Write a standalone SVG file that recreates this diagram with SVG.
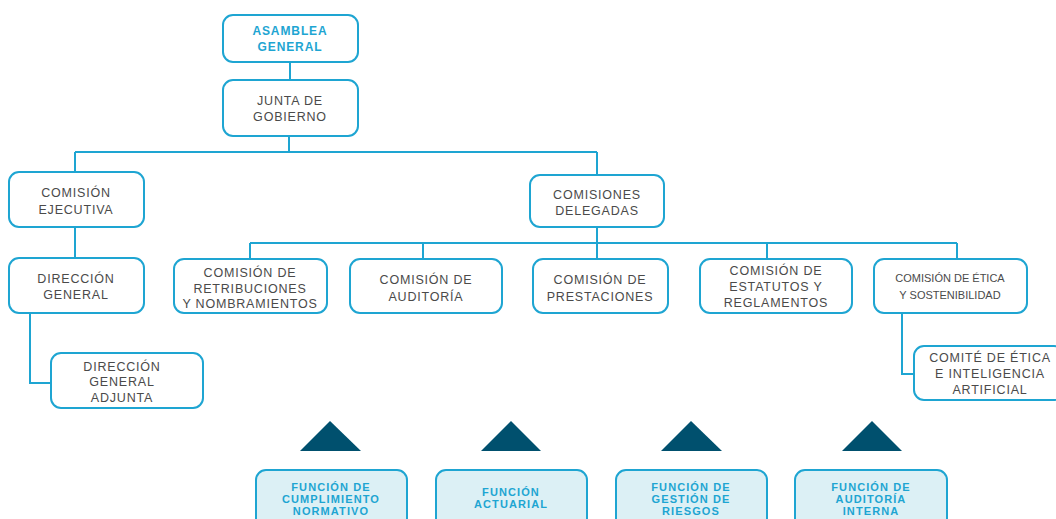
<svg xmlns="http://www.w3.org/2000/svg" width="1056" height="519" viewBox="0 0 1056 519">
<style>
.b{fill:#fff;stroke:#1ea5d2;stroke-width:2}
.f{fill:#dcf0f5;stroke:#1ea5d2;stroke-width:2}
.t{font-family:"Liberation Sans",Arial,sans-serif;font-size:12.5px;fill:#4a4a4a;text-anchor:middle;letter-spacing:0.8px}
.s{font-size:11px;letter-spacing:0}
.h{font-family:"Liberation Sans",Arial,sans-serif;font-size:12px;font-weight:bold;fill:#1ea5d2;text-anchor:middle;letter-spacing:0.9px}
.hs{font-size:11px;letter-spacing:1.1px}
.c{fill:none;stroke:#1ea5d2;stroke-width:2}
.tri{fill:#00506e}
</style>
<rect width="1056" height="519" fill="#fff"/>
<g id="connectors">
<path class="c" d="M290 62V80M289 136V152M75 152H597M75 152V172M597 152V175M75 227V258M30 313V383H51M597 227V243M250 243H957M250 243V259M423 243V259M597 243V259M767 243V259M957 243V259M902 313V374H914"/>
</g>
<g id="asamblea"><rect class="b" x="223" y="15" width="135" height="47" rx="10"/><text class="h" x="290" y="34.5">ASAMBLEA</text><text class="h" x="290" y="50.5">GENERAL</text></g>
<g id="junta"><rect class="b" x="223" y="80" width="135" height="56" rx="10"/><text class="t" x="290" y="104.5">JUNTA DE</text><text class="t" x="290" y="120.5">GOBIERNO</text></g>
<g id="ejecutiva"><rect class="b" x="9" y="172" width="135" height="55" rx="10"/><text class="t" x="76" y="196.5">COMISIÓN</text><text class="t" x="76" y="213.5">EJECUTIVA</text></g>
<g id="direccion"><rect class="b" x="9" y="258" width="135" height="55" rx="10"/><text class="t" x="76" y="282.5">DIRECCIÓN</text><text class="t" x="76" y="298.5">GENERAL</text></g>
<g id="adjunta"><rect class="b" x="51" y="353" width="152" height="55" rx="10"/><text class="t" x="122" y="370.5">DIRECCIÓN</text><text class="t" x="122" y="385.5">GENERAL</text><text class="t" x="122" y="401.5">ADJUNTA</text></g>
<g id="delegadas"><rect class="b" x="530" y="175" width="134" height="52" rx="10"/><text class="t" x="597" y="198.5">COMISIONES</text><text class="t" x="597" y="214.5">DELEGADAS</text></g>
<g id="retribuciones"><rect class="b" x="174" y="259" width="153" height="54" rx="10"/><text class="t" x="250" y="276.5">COMISIÓN DE</text><text class="t" x="250" y="292.5">RETRIBUCIONES</text><text class="t" x="250" y="307.5">Y NOMBRAMIENTOS</text></g>
<g id="auditoria"><rect class="b" x="350" y="259" width="152" height="54" rx="10"/><text class="t" x="426" y="283.5">COMISIÓN DE</text><text class="t" x="426" y="300.5">AUDITORÍA</text></g>
<g id="prestaciones"><rect class="b" x="533" y="259" width="135" height="54" rx="10"/><text class="t" x="600" y="283.5">COMISIÓN DE</text><text class="t" x="600" y="300.5">PRESTACIONES</text></g>
<g id="estatutos"><rect class="b" x="700" y="259" width="152" height="54" rx="10"/><text class="t" x="776" y="274.5">COMISIÓN DE</text><text class="t" x="776" y="290.5">ESTATUTOS Y</text><text class="t" x="776" y="306.5">REGLAMENTOS</text></g>
<g id="etica"><rect class="b" x="874" y="259" width="153" height="54" rx="10"/><text class="t s" x="950" y="282">COMISIÓN DE ÉTICA</text><text class="t s" x="950" y="299">Y SOSTENIBILIDAD</text></g>
<g id="comite"><rect class="b" x="914" y="346" width="150" height="54" rx="10"/><text class="t" x="990" y="361.5">COMITÉ DE ÉTICA</text><text class="t" x="990" y="378">E INTELIGENCIA</text><text class="t" x="990" y="394">ARTIFICIAL</text></g>
<g id="triangles">
<polygon class="tri" points="300,451 330,421 361,451"/>
<polygon class="tri" points="481,451 511,421 541,451"/>
<polygon class="tri" points="661,451 691,421 722,451"/>
<polygon class="tri" points="842,451 872,421 902,451"/>
</g>
<g id="cumplimiento"><rect class="f" x="256" y="470" width="151" height="60" rx="10"/><text class="h hs" x="331" y="490.5">FUNCIÓN DE</text><text class="h hs" x="331" y="502.5">CUMPLIMIENTO</text><text class="h hs" x="331" y="514.5">NORMATIVO</text></g>
<g id="actuarial"><rect class="f" x="436" y="470" width="151" height="60" rx="10"/><text class="h hs" x="511" y="496">FUNCIÓN</text><text class="h hs" x="511" y="508">ACTUARIAL</text></g>
<g id="riesgos"><rect class="f" x="616" y="470" width="151" height="60" rx="10"/><text class="h hs" x="691" y="490.5">FUNCIÓN DE</text><text class="h hs" x="691" y="502.5">GESTIÓN DE</text><text class="h hs" x="691" y="514.5">RIESGOS</text></g>
<g id="interna"><rect class="f" x="795" y="470" width="152" height="60" rx="10"/><text class="h hs" x="871" y="490.5">FUNCIÓN DE</text><text class="h hs" x="871" y="502.5">AUDITORÍA</text><text class="h hs" x="871" y="514.5">INTERNA</text></g>
</svg>
